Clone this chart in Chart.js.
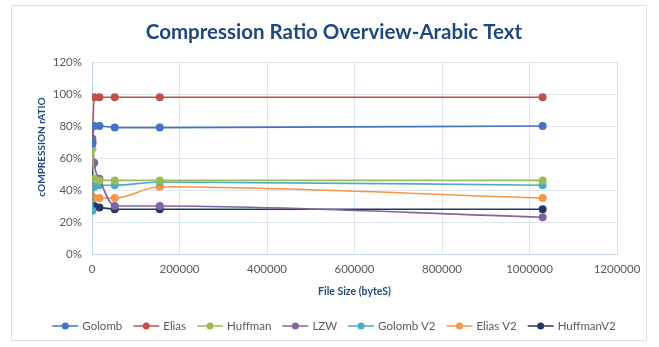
<!DOCTYPE html>
<html>
<head>
<meta charset="utf-8">
<script src="https://cdn.jsdelivr.net/npm/chart.js@4.4.1/dist/chart.umd.min.js"></script>
<style>
  html, body { margin: 0; padding: 0; background: #ffffff; }
  #wrap { position: relative; width: 659px; height: 347px; }
  #frame { position: absolute; left: 11px; top: 5px; width: 636px; height: 336px;
           border: 1px solid #d6dfec; box-sizing: border-box; pointer-events: none; }
  canvas { position: absolute; left: 0; top: 0; }
</style>
</head>
<body>
<div id="wrap">
  <canvas id="chart" width="659" height="347"></canvas>
  <div id="frame"></div>
</div>
<script>
// File sizes (bytes) of the Arabic test texts
const fileSizes = [1000, 5000, 17000, 52000, 155000, 1030000];

// Compression ratio per algorithm, in percent
const golomb    = [69, 80, 80, 79, 79, 80];
const elias     = [70, 98, 98, 98, 98, 98];
const huffman   = [66, 47, 46, 46, 46, 46];
const lzw       = [72, 57, 47, 30, 30, 23];
const golombV2  = [27, 42, 43, 43, 45, 43];
const eliasV2   = [42, 35, 35, 35, 42, 35];
const huffmanV2 = [56, 30, 29, 28, 28, 28];

const seriesNames = ['Golomb', 'Elias', 'Huffman', 'LZW', 'Golomb V2', 'Elias V2', 'HuffmanV2'];
const seriesValues = [golomb, elias, huffman, lzw, golombV2, eliasV2, huffmanV2];
const seriesColors = ['#4472c4', '#c0504d', '#9bbb59', '#8064a2', '#4bacc6', '#f79646', '#1f3864'];

const xTicks = [0, 200000, 400000, 600000, 800000, 1000000, 1200000];
const yTicks = [0, 20, 40, 60, 80, 100, 120];

const FONT = 'Lato, "Open Sans", sans-serif';
const NAVY = '#1f497d';
const GREY = '#595959';

const datasets = seriesNames.map((name, i) => ({
  label: name,
  data: fileSizes.map((x, j) => ({ x: x, y: seriesValues[i][j] })),
  borderColor: seriesColors[i],
  backgroundColor: seriesColors[i],
  borderWidth: 1.6,
  pointRadius: 4,
  pointHoverRadius: 4,
  pointBorderWidth: 0,
  showLine: true,
  cubicInterpolationMode: 'monotone'
}));

// Title, rotated y caption and the legend row
const decorations = {
  id: 'decorations',
  afterDraw(chart) {
    const ctx = chart.ctx;
    ctx.save();

    ctx.font = 'bold 20.5px ' + FONT;
    ctx.fillStyle = NAVY;
    ctx.textAlign = 'center';
    ctx.textBaseline = 'middle';
    ctx.fillText('Compression Ratio Overview-Arabic Text', 334, 32);

    ctx.save();
    ctx.translate(42, 147);
    ctx.rotate(-Math.PI / 2);
    ctx.font = 'bold 10px ' + FONT;
    ctx.fillText('cOMPRESSION rATIO', 0, 0);
    ctx.restore();

    // legend: line-and-dot symbol followed by the series name
    ctx.font = '11.5px ' + FONT;
    const symW = 26, gap = 4, itemGap = 11;
    const widths = chart.data.datasets.map(d => symW + gap + ctx.measureText(d.label).width);
    const total = widths.reduce((a, b) => a + b, 0) + itemGap * (widths.length - 1);
    let x = 334 - total / 2;
    const y = 326;
    ctx.textAlign = 'left';
    chart.data.datasets.forEach((d, i) => {
      ctx.strokeStyle = d.borderColor;
      ctx.fillStyle = d.borderColor;
      ctx.lineWidth = 1.5;
      ctx.beginPath(); ctx.moveTo(x, y); ctx.lineTo(x + symW, y); ctx.stroke();
      ctx.beginPath(); ctx.arc(x + symW / 2, y, 3.5, 0, Math.PI * 2); ctx.fill();
      ctx.fillStyle = GREY;
      ctx.fillText(d.label, x + symW + gap, y + 0.5);
      x += widths[i] + itemGap;
    });
    ctx.restore();
  }
};

new Chart(document.getElementById('chart'), {
  type: 'scatter',
  data: { datasets },
  plugins: [decorations],
  options: {
    responsive: false,
    animation: false,
    layout: { padding: { left: 0, right: 42, top: 62, bottom: 45 } },
    plugins: {
      tooltip: { enabled: false },
      title: { display: false },
      legend: { display: false }
    },
    scales: {
      x: {
        type: 'linear',
        min: 0, max: 1200000,
        afterBuildTicks(scale) { scale.ticks = xTicks.map(v => ({ value: v })); },
        afterFit(scale) { scale.height = 48; },
        grid: { color: '#dfe5ee', drawTicks: false },
        border: { color: '#c5d3e6' },
        ticks: { padding: 8, color: GREY, font: { family: FONT, size: 11.5 },
                 maxRotation: 0, callback: v => String(v) },
        title: { display: true, text: 'File Size (byteS)', color: NAVY,
                 font: { family: FONT, size: 10.5, weight: 'bold' }, padding: { top: 3 } }
      },
      y: {
        min: 0, max: 120,
        afterBuildTicks(scale) { scale.ticks = yTicks.map(v => ({ value: v })); },
        afterFit(scale) { scale.width = 92; },
        grid: { color: '#dfe5ee', drawTicks: false },
        border: { color: '#c5d3e6' },
        ticks: { padding: 10, color: GREY, font: { family: FONT, size: 11.5 },
                 callback: v => v + '%' }
      }
    }
  }
});
</script>
</body>
</html>
